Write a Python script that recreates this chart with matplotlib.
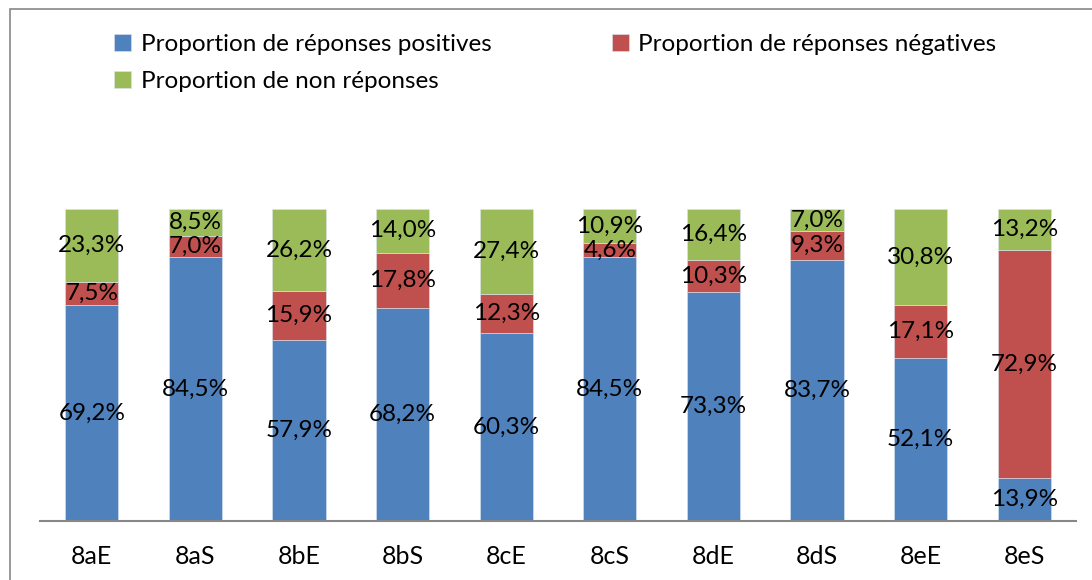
import numpy as np
import matplotlib.pyplot as plt
from matplotlib.patches import Rectangle

categories = ['8aE', '8aS', '8bE', '8bS', '8cE', '8cS', '8dE', '8dS', '8eE', '8eS']
positives = [69.2, 84.5, 57.9, 68.2, 60.3, 84.5, 73.3, 83.7, 52.1, 13.9]
negatives = [7.5, 7.0, 15.9, 17.8, 12.3, 4.6, 10.3, 9.3, 17.1, 72.9]
non_rep = [23.3, 8.5, 26.2, 14.0, 27.4, 10.9, 16.4, 7.0, 30.8, 13.2]
series_names = ['Proportion de réponses positives', 'Proportion de réponses négatives',
                'Proportion de non réponses']
colors = ['#4F81BD', '#C0504D', '#9BBB59']

plt.rcParams['font.family'] = ['Lato', 'DejaVu Sans']

W, H = 1092, 580
fig = plt.figure(figsize=(W / 100, H / 100), dpi=100)
ax = fig.add_axes([40 / W, (H - 521) / H, (1076 - 40) / W, (521 - 209) / H])

# outer chart border
fig.patches.append(Rectangle((10 / W, -0.1), 1.2, (H - 9) / H + 0.1, transform=fig.transFigure,
                             fill=False, edgecolor='#878787', linewidth=1.2))

x = np.arange(len(categories))
bottom = np.zeros(len(categories))
handles = []
for vals, col, name in zip([positives, negatives, non_rep], colors, series_names):
    vals = np.array(vals)
    b = ax.bar(x, vals, bottom=bottom, width=0.515, color=col, edgecolor='#dbe5f1',
               linewidth=0.4, label=name)
    handles.append(b)
    for xi, v, bt in zip(x, vals, bottom):
        ax.text(xi, bt + v / 2, f"{v:.1f}%".replace('.', ','), ha='center', va='center',
                fontsize=17.5, color='black')
    bottom += vals

ax.set_xlim(-0.5, len(categories) - 0.5)
ax.set_ylim(0, 100)
ax.set_yticks([])
ax.set_xticks(x)
ax.set_xticklabels(categories, fontsize=18)
ax.tick_params(axis='x', length=0, pad=17)
for s in ['top', 'right', 'left']:
    ax.spines[s].set_visible(False)
ax.spines['bottom'].set_color('#878787')
ax.spines['bottom'].set_linewidth(1.5)

# legend: order so that rows read positives, negatives / non reponses
order = [0, 2, 1]
fig.legend([handles[i] for i in order], [series_names[i] for i in order],
           loc='upper left', bbox_to_anchor=(92 / W, 1 - 12 / H), ncol=2,
           frameon=False, fontsize=17.5, handlelength=0.7, handleheight=0.7,
           handletextpad=0.4, columnspacing=4.95, labelspacing=0.67)

fig.savefig('out.png', dpi=100)
